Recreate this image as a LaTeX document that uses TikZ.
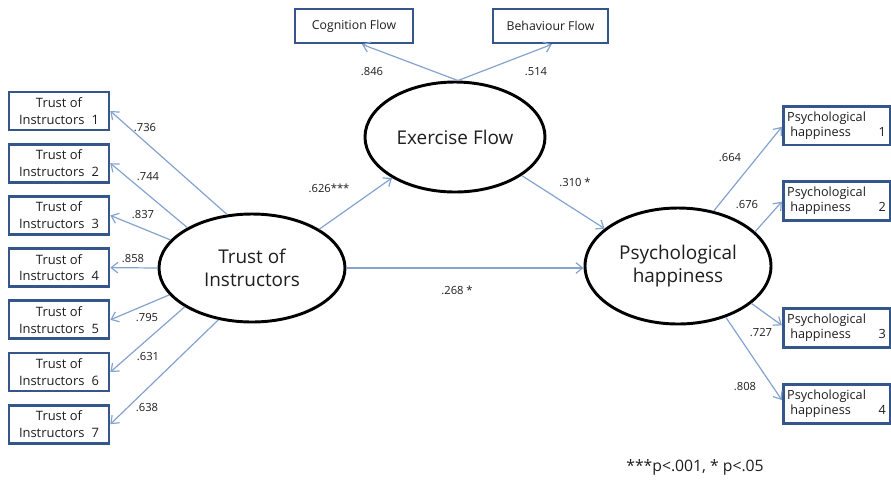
\documentclass[tikz,border=0pt]{standalone}
\usepackage{fontspec}
\setmainfont{Open Sans}
\usetikzlibrary{shapes.geometric,arrows.meta}
\definecolor{boxblue}{HTML}{34568A}
\definecolor{lineblue}{HTML}{84A3CF}
\definecolor{txt}{HTML}{1E1E1E}
\begin{document}
\begin{tikzpicture}[x=0.75pt,y=-0.75pt,
  lbox/.style={draw=boxblue,line width=2pt,minimum width=75pt,minimum height=28.5pt,inner sep=0pt,align=center,font=\fontsize{9.7}{12.5}\selectfont,text=txt},
  tbox/.style={draw=boxblue,line width=2pt,minimum height=25.5pt,inner sep=0pt,font=\fontsize{9.2}{11}\selectfont,text=txt},
  rbox/.style={draw=boxblue,line width=2pt,minimum height=29pt,text width=74pt,inner xsep=3pt,inner ysep=0pt,align=left,font=\fontsize{9.5}{11.3}\selectfont,text=txt},
  latent/.style={ellipse,draw=black,line width=2.2pt,inner sep=0pt,align=center,font=\fontsize{14.2}{17.3}\selectfont,text=txt},
  link/.style={draw=lineblue,line width=0.9pt,-{Straight Barb[length=5pt,width=8pt]}},
  coef/.style={font=\fontsize{8.4}{10}\selectfont,text=txt,inner sep=0pt}]
\path[use as bounding box,fill=white] (0,0) rectangle (891,480);

% latent variables
\node[latent,minimum width=139.5pt,minimum height=81pt] (trust) at (252,268) {Trust of\\Instructors};
\node[latent,minimum width=135pt,minimum height=82.5pt] (exer) at (455,137) {Exercise Flow};
\node[latent,minimum width=139.5pt,minimum height=87pt] (psych) at (678,266) {Psychological\\happiness};

% left indicators
\foreach \i/\y in {1/111,2/163.2,3/215.4,4/267.6,5/319.8,6/372,7/424.2}{
  \node[lbox] (t\i) at (59,\y) {Trust of\\Instructors\hspace{0.55em}\i};
}
% top indicators
\node[tbox,minimum width=88.5pt] (cog) at (354,26) {Cognition Flow};
\node[tbox,minimum width=86.25pt] (beh) at (550.5,26) {Behaviour Flow};
% right indicators
\foreach \i/\y in {1/125.5,2/201,3/328,4/404}{
  \node[rbox] (p\i) at (836.5,\y) {Psychological\\\hspace{0.25em}happiness\hfill\i};
}

% loadings of trust
\draw[link] (trust.115) -- (t1.east);
\draw[link] (trust.148) -- (t2.east);
\draw[link] (trust.161) -- (t3.east);
\draw[link] (trust.180) -- (t4.east);
\draw[link] (trust.198) -- (t5.east);
\draw[link] (trust.210) -- (t6.east);
\draw[link] (trust.237) -- (t7.east);
\node[coef] (l1) at (145,128) {.736};
\node[coef] (l2) at (148,177) {.744};
\node[coef] (l3) at (143,215) {.837};
\node[coef] (l4) at (133,259) {.858};
\node[coef] (l5) at (147,318) {.795};
\node[coef] (l6) at (148,357) {.631};
\node[coef] (l7) at (147,408) {.638};

% loadings of exercise flow
\draw[link] ([xshift=2.2pt]exer.north) -- ([xshift=6pt]cog.south);
\draw[link] ([xshift=2.2pt]exer.north) -- ([xshift=1pt]beh.south);
\node[coef] (lc) at (372,72) {.846};
\node[coef] (lb) at (536,72) {.514};

% structural paths
\draw[link] (trust.30) -- (exer.213);
\draw[link] (exer.330) -- (psych.153);
\draw[link] (trust.east) -- (psych.west |- trust.east);
\node[coef] (s1) at (329,188) {.626***};
\node[coef] (s2) at (575,182) {.310 *};
\node[coef] (s3) at (457,290) {.268 *};

% loadings of psychological happiness
\draw[link] (psych.57) -- ([yshift=-1pt]p1.west);
\draw[link] (psych.24) -- ([yshift=-0.5pt]p2.west);
\draw[link] (psych.333) -- ([yshift=2pt]p3.west);
\draw[link] (psych.313) -- ([yshift=3pt]p4.west);
\node[coef] (r1) at (730,158) {.664};
\node[coef] (r2) at (747,205) {.676};
\node[coef] (r3) at (761,333) {.727};
\node[coef] (r4) at (745,387) {.808};

% footnote
\node[font=\fontsize{11.8}{13}\selectfont,text=txt,inner sep=0pt] (note) at (695,467) {***p<.001, * p<.05};
\end{tikzpicture}
\end{document}
